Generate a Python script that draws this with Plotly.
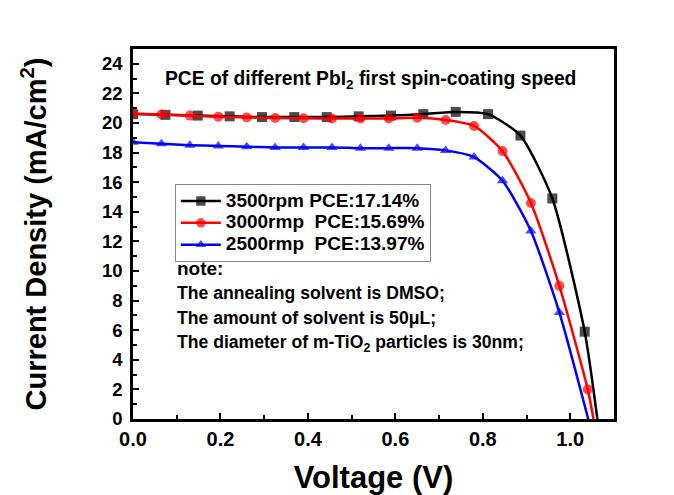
import plotly.graph_objects as go

# 3500 rpm (black squares)
x_3500 = [0.0, 0.074, 0.148, 0.221, 0.295, 0.369, 0.443, 0.516, 0.590, 0.664, 0.738, 0.812, 0.886, 0.959, 1.033, 1.062]
y_3500 = [20.6, 20.55, 20.5, 20.45, 20.4, 20.4, 20.4, 20.45, 20.5, 20.6, 20.75, 20.6, 19.15, 14.9, 5.9, 0.0]
# 3000 rmp (red circles)
x_3000 = [0.0, 0.065, 0.13, 0.195, 0.26, 0.325, 0.39, 0.455, 0.52, 0.585, 0.65, 0.715, 0.78, 0.845, 0.91, 0.975, 1.04, 1.053]
y_3000 = [20.65, 20.57, 20.5, 20.43, 20.38, 20.34, 20.32, 20.3, 20.3, 20.3, 20.35, 20.2, 19.8, 18.1, 14.6, 9.0, 2.0, 0.0]
# 2500 rmp (blue triangles)
x_2500 = [0.0, 0.065, 0.13, 0.195, 0.26, 0.325, 0.39, 0.455, 0.52, 0.585, 0.65, 0.715, 0.78, 0.845, 0.91, 0.975, 1.041]
y_2500 = [18.7, 18.6, 18.5, 18.45, 18.4, 18.35, 18.35, 18.35, 18.3, 18.3, 18.3, 18.15, 17.7, 16.1, 12.7, 7.2, 0.0]

series_names = ["3500rpm PCE:17.14%", "3000rmp\u00a0 PCE:15.69%", "2500rmp\u00a0 PCE:13.97%"]
colors = ["#000000", "#ff0000", "#0000ff"]
symbols = ["square", "circle", "triangle-up"]

title_text = "PCE of different PbI<sub>2</sub> first spin-coating speed"
note_lines = [
    "note:",
    "The annealing solvent is DMSO;",
    "The amount of solvent is 50\u03bcL;",
    "The diameter of m-TiO<sub>2</sub> particles is 30nm;",
]

FONT = "Liberation Sans, Arial, sans-serif"

fig = go.Figure()
for xs, ys, name, c, s in zip([x_3500, x_3000, x_2500], [y_3500, y_3000, y_2500],
                              series_names, colors, symbols):
    sizes = [10] * (len(xs) - 1) + [0]
    fig.add_trace(go.Scatter(
        x=xs, y=ys, name='<span style="font-size:19px">' + name + '</span>',
        mode="lines+markers",
        line=dict(color=c, width=2.5, shape="spline", smoothing=0.6),
        marker=dict(symbol=s, color=c, size=sizes, line=dict(width=0)),
    ))

fig.add_annotation(x=0.493, y=0.916, xref="paper", yref="paper", text=title_text,
                   showarrow=False, font=dict(family=FONT, size=19.3, color="black", weight="bold"),
                   xanchor="center", yanchor="middle")

note_y = [0.408, 0.341, 0.273, 0.205]
note_sizes = [19, 17.6, 17.6, 17.6]
for t, yy, fs in zip(note_lines, note_y, note_sizes):
    fig.add_annotation(x=0.087, y=yy, xref="paper", yref="paper", text=t,
                       showarrow=False, font=dict(family=FONT, size=fs, color="black", weight="bold"),
                       xanchor="left", yanchor="middle")

axis_common = dict(
    showline=True, linecolor="black", linewidth=2.5, mirror=True,
    ticks="inside", tickcolor="black", tickwidth=2, ticklen=6,
    showgrid=False, zeroline=False,
)

fig.update_xaxes(
    range=[0, 1.1], tickvals=[0, 0.2, 0.4, 0.6, 0.8, 1.0],
    ticktext=["0.0", "0.2", "0.4", "0.6", "0.8", "1.0"],
    tickfont=dict(family=FONT, size=20, color="black", weight="bold"),
    minor=dict(dtick=0.1, ticks="inside", ticklen=4, tickwidth=2, tickcolor="black"),
    title=dict(text="Voltage (V)", font=dict(family=FONT, size=31, color="black", weight="bold"),
               standoff=20),
    **axis_common,
)
fig.update_yaxes(
    range=[0, 25], tickvals=list(range(0, 25, 2)),
    tickfont=dict(family=FONT, size=18.5, color="black", weight="bold"),
    ticklabelstandoff=4,
    minor=dict(dtick=1, ticks="inside", ticklen=4, tickwidth=2, tickcolor="black"),
    title=dict(text="Current Density (mA/cm<sup>2</sup>)",
               font=dict(family=FONT, size=29, color="black", weight="bold"), standoff=47),
    **axis_common,
)

fig.update_layout(
    width=666, height=487,
    margin=dict(l=125, r=60, t=41, b=76, autoexpand=False),
    paper_bgcolor="white", plot_bgcolor="white",
    showlegend=True,
    legend=dict(x=0.087, y=0.635, xanchor="left", yanchor="top",
                bordercolor="#888888", borderwidth=1, bgcolor="rgba(255,255,255,0)",
                font=dict(family=FONT, size=14.5, color="black", weight="bold"),
                itemwidth=40, tracegroupgap=0),
)

fig.write_html("out.html")
